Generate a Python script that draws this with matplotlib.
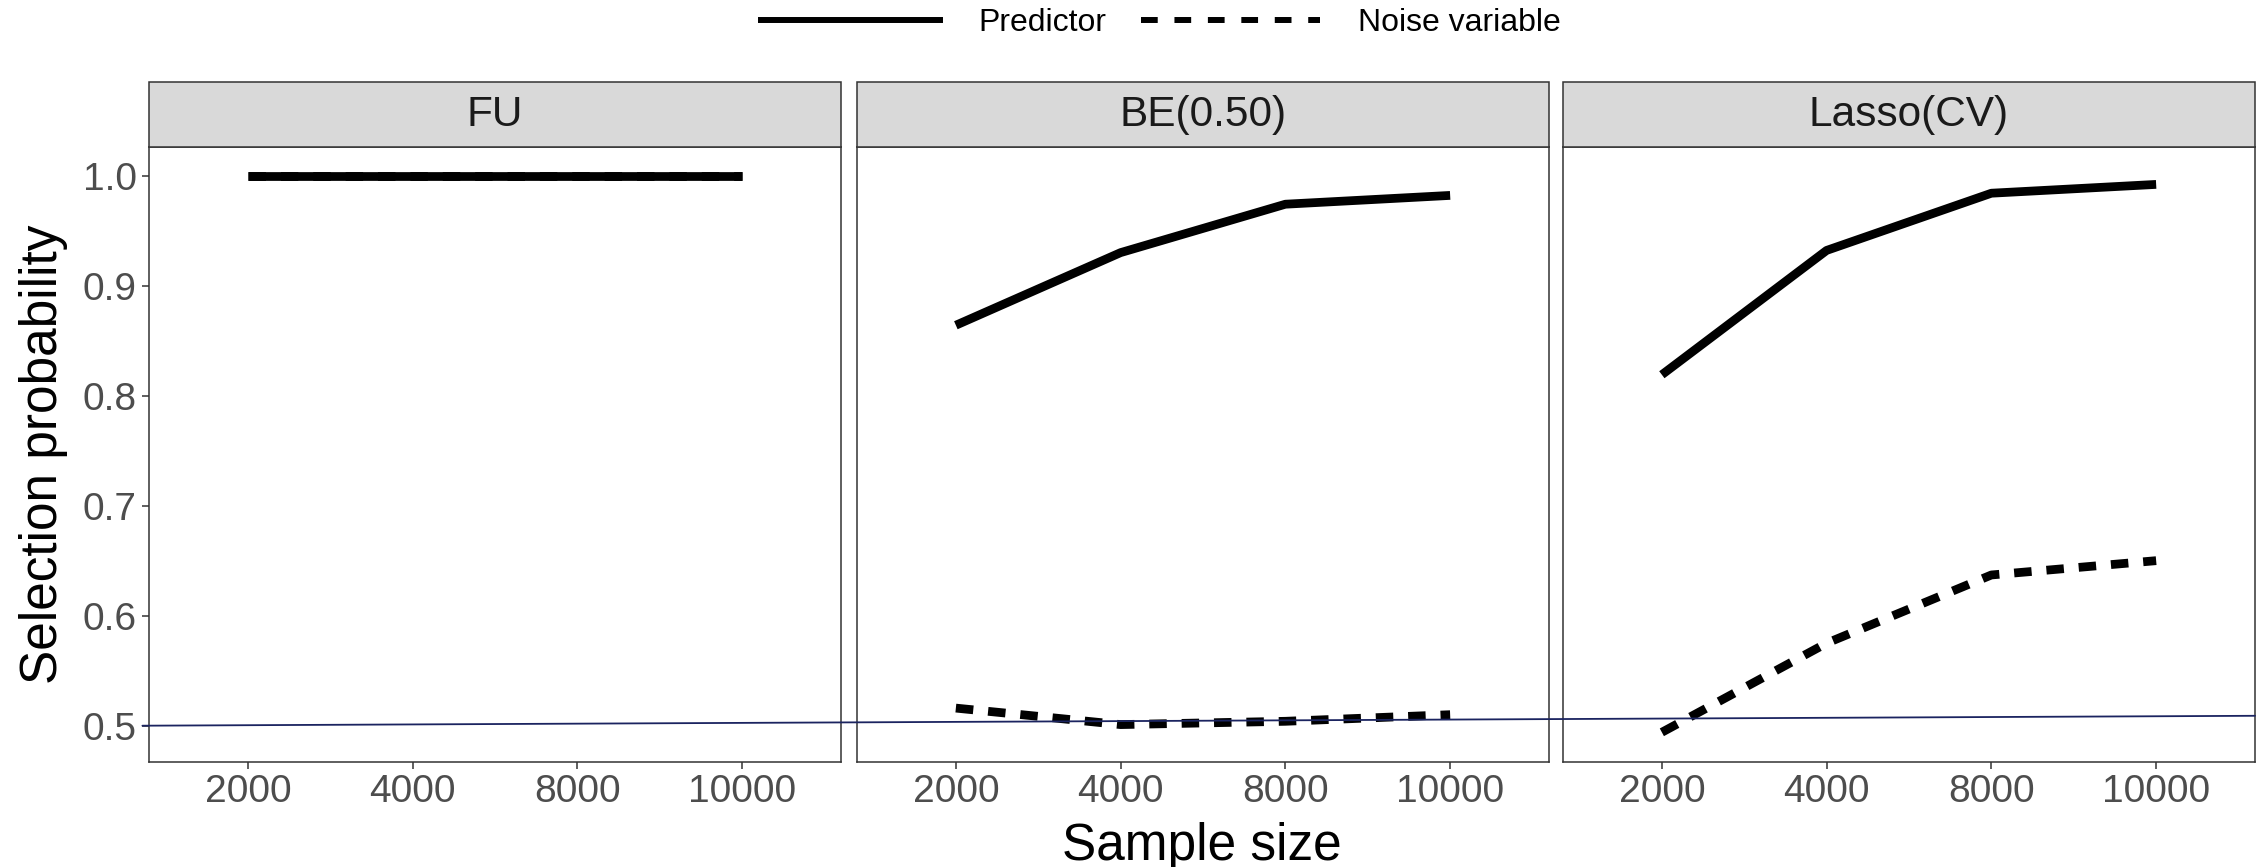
import matplotlib
matplotlib.use("Agg")
import matplotlib.pyplot as plt
from matplotlib.lines import Line2D
from matplotlib.patches import Rectangle, ConnectionPatch

plt.rcParams['font.family'] = ['Liberation Sans', 'DejaVu Sans']

# selection probabilities per method, sample sizes on a discrete axis
sample_sizes = ["2000", "4000", "8000", "10000"]
methods = ["FU", "BE(0.50)", "Lasso(CV)"]

predictor = {
    "FU":        [1.000, 1.000, 1.000, 1.000],
    "BE(0.50)":  [0.864, 0.930, 0.974, 0.982],
    "Lasso(CV)": [0.819, 0.932, 0.984, 0.992],
}
noise = {
    "FU":        [1.000, 1.000, 1.000, 1.000],
    "BE(0.50)":  [0.516, 0.501, 0.504, 0.510],
    "Lasso(CV)": [0.494, 0.575, 0.637, 0.650],
}
y_ticks = [0.5, 0.6, 0.7, 0.8, 0.9, 1.0]

W, H = 2262, 867
fig = plt.figure(figsize=(W / 100, H / 100), dpi=100)

left_px = [149, 857, 1563]
panel_w = 692
top_px, bottom_px = 147, 762
strip_h = 65

border = "#333333"
xpos = list(range(1, len(sample_sizes) + 1))
axes = []
for i, m in enumerate(methods):
    ax = fig.add_axes([left_px[i] / W, 1 - bottom_px / H,
                       panel_w / W, (bottom_px - top_px) / H])
    ax.plot(xpos, noise[m], color="black", lw=6.3, dashes=(2.0, 1.7),
            solid_capstyle="butt", zorder=3)
    ax.plot(xpos, predictor[m], color="black", lw=6.3,
            solid_capstyle="butt", zorder=4)
    ax.set_xlim(0.4, 4.6)
    ax.set_ylim(0.467, 1.026)
    ax.set_xticks(xpos)
    ax.set_xticklabels(sample_sizes)
    ax.set_yticks(y_ticks)
    if i == 0:
        ax.set_yticklabels(["%.1f" % t for t in y_ticks])
    else:
        ax.tick_params(axis="y", left=False, labelleft=False)
    ax.tick_params(axis="both", labelsize=28, labelcolor="#4D4D4D",
                   color=border, length=5, width=1.1, pad=4)
    for s in ax.spines.values():
        s.set_color(border)
        s.set_linewidth(1.1)

    # facet strip
    h = strip_h / (bottom_px - top_px)
    ax.add_patch(Rectangle((0, 1), 1, h, transform=ax.transAxes,
                           facecolor="#D9D9D9", edgecolor=border, lw=1.1,
                           clip_on=False, zorder=5))
    ax.text(0.5, 1 + h / 2, m, transform=ax.transAxes, ha="center",
            va="center", fontsize=30.5, color="#1A1A1A", zorder=6)
    axes.append(ax)

# thin reference line running across all panels
con = ConnectionPatch(xyA=(0.36, 0.500), coordsA=axes[0].transData,
                      xyB=(4.6, 0.509), coordsB=axes[2].transData,
                      color="#1b2460", lw=1.3, zorder=10)
fig.add_artist(con)

fig.text((149 + 2254) / 2 / W, 1 - 860 / H, "Sample size", ha="center",
         va="baseline", fontsize=37)
fig.text(44 / W, 1 - 454 / H, "Selection probability", ha="center",
         va="center", rotation=90, fontsize=37)

handles = [
    Line2D([], [], color="black", lw=4.3),
    Line2D([], [], color="black", lw=4.3, dashes=(2.8, 2.8)),
]
fig.legend(handles, ["Predictor", "Noise variable"], loc="center",
           bbox_to_anchor=(1161 / W, 1 - 23 / H), ncol=2, frameon=False,
           fontsize=23, handlelength=5.6, handletextpad=1.2,
           columnspacing=1.1, borderpad=0, borderaxespad=0)

fig.savefig("out.png", dpi=100)
